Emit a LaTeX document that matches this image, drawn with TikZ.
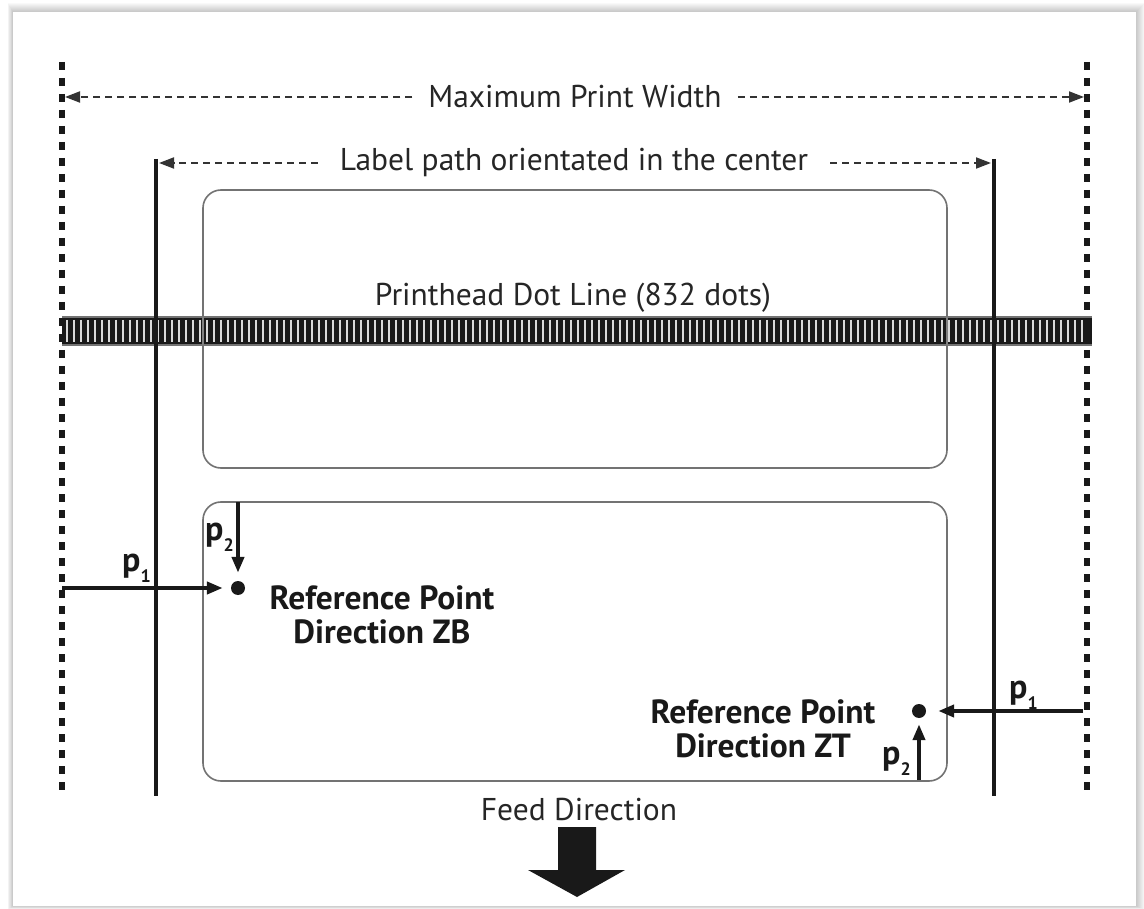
\documentclass[tikz,border=0pt]{standalone}
\usepackage{fontspec}
\setmainfont{PT Sans}
\usetikzlibrary{arrows.meta}
\tikzset{
  dotline/.style={line width=6pt, black!90, dash pattern=on 8pt off 8pt},
  guide/.style={line width=4.2pt, black!90},
  dasharrow/.style={line width=1.8pt, black!80, dash pattern=on 7pt off 5pt, -{Triangle[length=15pt,width=11pt]}},
  lblrect/.style={draw=black!55, line width=1.6pt, rounded corners=18pt},
  parrow/.style={line width=4pt, black!90, -{Triangle[length=16pt,width=12pt]}},
  refdot/.style={circle, fill=black!90, inner sep=0pt, minimum size=14pt},
  txt/.style={font=\fontsize{31.5}{34}\selectfont, text=black!85, inner sep=0pt},
  gaptxt/.style={txt, fill=white, inner xsep=16pt, inner ysep=2pt},
  reftxt/.style={font=\fontsize{33.5}{34}\selectfont\bfseries, text=black!90, align=center, inner sep=0pt},
  plab/.style={font=\fontsize{34}{34}\selectfont\bfseries, text=black!90, inner sep=0pt, anchor=base west},
}
\newcommand{\pp}[1]{p\raisebox{-11pt}{\fontsize{18}{18}\selectfont\bfseries #1}}
\begin{document}
\begin{tikzpicture}[x={(1pt,0pt)}, y={(0pt,-1pt)}]
\useasboundingbox (0,0) rectangle (1144,909);
% shadow and panel
\fill[white] (0,0) rectangle (1144,909);
\foreach \d in {1,...,9} {
  \fill[black, opacity=0.022] ({13-\d*0.6},{12-\d}) rectangle ({1136+\d},{906+\d*0.4});
}
\fill[white] (13,12) rectangle (1136,906);

% label rectangles
\draw[lblrect] (203,190) rectangle (947,468);
\draw[lblrect] (203,502) rectangle (947,781);

% printhead bar
\fill[black!90] (62,317) rectangle (1092,345);
\foreach \x in {67,74,...,1088} {
  \draw[white!85!black, line width=1.7pt] (\x,320) -- (\x,342);
}
\draw[black!55, line width=1.2pt] (62,317) -- (1092,317) (62,345) -- (1092,345);
\draw[black!50, line width=1.4pt] (203,317) -- (203,345) (947,317) -- (947,345);

\node[txt] (phead) at (573,298) {Printhead Dot Line (832 dots)};

% vertical limit lines
\coordinate (dlt) at (62,62);   \coordinate (dlb) at (62,795);
\coordinate (drt) at (1087,62); \coordinate (drb) at (1087,795);
\coordinate (glt) at (156,159); \coordinate (glb) at (156,796);
\coordinate (grt) at (994,159); \coordinate (grb) at (994,796);
\draw[dotline] (dlt) -- (dlb);
\draw[dotline] (drt) -- (drb);
\draw[guide] (glt) -- (glb);
\draw[guide] (grt) -- (grb);

% width arrows
\coordinate (mwl) at (65,97);  \coordinate (mwr) at (1084,97);
\node[gaptxt] (maxw) at (575,97) {Maximum Print Width};
\draw[dasharrow] (maxw.west) -- (mwl);
\draw[dasharrow] (maxw.east) -- (mwr);

\coordinate (lpl) at (159,163); \coordinate (lpr) at (991,163);
\node[gaptxt, inner xsep=22pt] (lpath) at (574,163) {Label path orientated in the center};
\draw[dasharrow] (lpath.west) -- (lpl);
\draw[dasharrow] (lpath.east) -- (lpr);

% reference point ZB
\node[refdot] (zb) at (238,588) {};
\coordinate (zbp1) at (62,588);
\coordinate (zbp2) at (238,502);
\draw[parrow, shorten >=8pt] (zbp1) -- (zb);
\draw[parrow, shorten >=8pt] (zbp2) -- (zb);
\node[plab] (zbl1) at (122,571) {\pp{1}};
\node[plab] (zbl2) at (205,540) {\pp{2}};
\node[reftxt] (zbt) at (382,615) {Reference Point\\Direction ZB};

% reference point ZT
\node[refdot] (zt) at (919,711) {};
\coordinate (ztp1) at (1083,711);
\coordinate (ztp2) at (919,780);
\draw[parrow, shorten >=12pt] (ztp1) -- (zt);
\draw[parrow, shorten >=6pt] (ztp2) -- (zt);
\node[plab] (ztl1) at (1009,698) {\pp{1}};
\node[plab] (ztl2) at (882,764) {\pp{2}};
\node[reftxt] (ztt) at (763,729) {Reference Point\\Direction ZT};

% feed direction
\node[txt] (feed) at (579,810) {Feed Direction};
\fill[black!90] (558,827) -- (596,827) -- (596,870) -- (625,870) -- (577,897) -- (528,870) -- (558,870) -- cycle;
\end{tikzpicture}
\end{document}
